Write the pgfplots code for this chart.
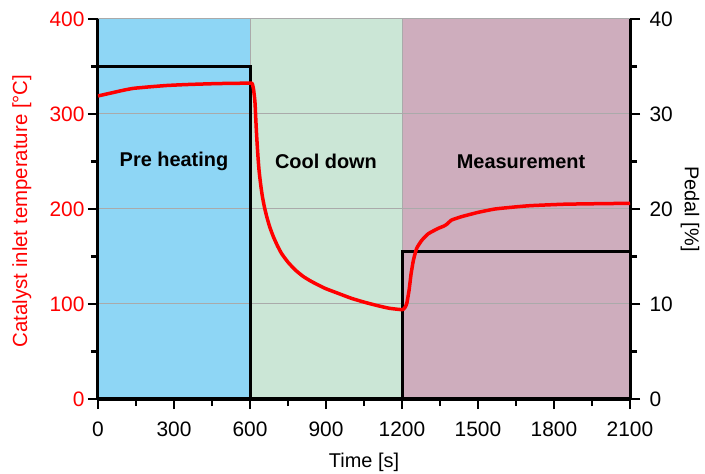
\documentclass[border=0pt]{standalone}
\usepackage{fontspec}
\setmainfont{Liberation Sans}
\usepackage{pgfplots}
\pgfplotsset{compat=1.18}
\definecolor{preblue}{RGB}{142,214,245}
\definecolor{coolgreen}{RGB}{203,230,214}
\definecolor{measmauve}{RGB}{206,173,189}
\definecolor{gridgray}{RGB}{170,170,170}

\begin{document}
\begin{tikzpicture}
\pgfplotsset{
  every axis/.append style={
    scale only axis, width=532bp, height=380bp,
    xmin=0, xmax=2100,
    font=\fontsize{20}{24}\selectfont,
    tick label style={font=\fontsize{21}{25}\selectfont},
    /pgf/number format/assume math mode=true,
    /pgf/number format/1000 sep={},
    tick align=outside,
    major tick length=10bp, minor tick length=7bp,
    tick style={black, line width=2.5bp},
    axis line style={black, line width=3bp},
  },
}
% pedal axis (right) with the phase backgrounds
\begin{axis}[
    set layers,
    ymin=0, ymax=40,
    axis y line*=right,
    axis x line*=bottom,
    xtick={0,300,...,2100},
    minor x tick num=1,
    ytick={0,10,...,40},
    minor y tick num=1,
    xticklabel style={yshift=-9bp},
    yticklabel style={xshift=6bp},
    ymajorgrids,
    grid style={gridgray, line width=1bp},
    xlabel={Time [s]},
    ylabel={Pedal [\%]},
    every axis x label/.style={at={(axis description cs:0.5,-0.166)}, anchor=center},
    every axis y label/.style={at={(axis description cs:1.113,0.5)}, anchor=center, rotate=-90},
]
\addplot[draw=none, fill=preblue, on layer=axis background]
    coordinates {(0,0) (0,40) (600,40) (600,0)} \closedcycle;
\addplot[draw=none, fill=coolgreen, on layer=axis background]
    coordinates {(600,0) (600,40) (1200,40) (1200,0)} \closedcycle;
\addplot[draw=none, fill=measmauve, on layer=axis background]
    coordinates {(1200,0) (1200,40) (2100,40) (2100,0)} \closedcycle;
\addplot[gridgray, line width=1bp] coordinates {(600,0) (600,40)};
\addplot[gridgray, line width=1bp] coordinates {(1200,0) (1200,40)};

% pedal position
\addplot[black, line width=3bp] coordinates {
    (0,35) (600,35) (600,0) (1200,0) (1200,15.5) (2100,15.5)
};

\node[font=\fontsize{20}{24}\selectfont\bfseries] at (axis cs:300,25) {Pre heating};
\node[font=\fontsize{20}{24}\selectfont\bfseries] at (axis cs:900,25) {Cool down};
\node[font=\fontsize{20}{24}\selectfont\bfseries] at (axis cs:1670,25) {Measurement};
\end{axis}

% temperature axis (left)
\begin{axis}[
    ymin=0, ymax=400,
    axis y line*=left,
    axis x line=none,
    ytick={0,100,...,400},
    minor y tick num=1,
    yticklabel style={red},
    ylabel={Catalyst inlet temperature [°C]},
    every axis y label/.style={at={(axis description cs:-0.143,0.495)}, anchor=center, rotate=90, red, font=\fontsize{20.5}{24}\selectfont},
]
\addplot[red, line width=3.5bp, line join=round, smooth, tension=0.3] coordinates {
    (0,319) (50,322) (100,325) (140,327) (200,328.5) (271,330) (350,331)
    (469,332) (600,332.5) (606,332.3) (609,332) (614,326) (618,317)
    (620,311) (623,294) (626.5,276) (631,257) (635.6,241) (642,226)
    (649,213) (657,202) (666,192) (678,181) (692,171) (708,161.5) (725,153)
    (750,144) (778,136) (810,129) (844,123.5) (896,116.5) (950,111)
    (1000,106) (1050,102) (1100,98.5) (1150,95.5) (1199,94) (1205,94.4)
    (1212,96.5) (1219,100.7) (1228,114.7) (1236,132) (1245,146)
    (1258,158.6) (1278,167) (1304,174) (1343,179.6) (1365,182) (1377,184)
    (1396,188.4) (1436,192) (1501,196.5) (1567,200) (1640,202)
    (1706,203.5) (1837,205) (1950,205.5) (2100,206)
};
\end{axis}
\pgfresetboundingbox
\path[use as bounding box] (-98bp,-75bp) rectangle (607bp,399bp);
\end{tikzpicture}
\end{document}
